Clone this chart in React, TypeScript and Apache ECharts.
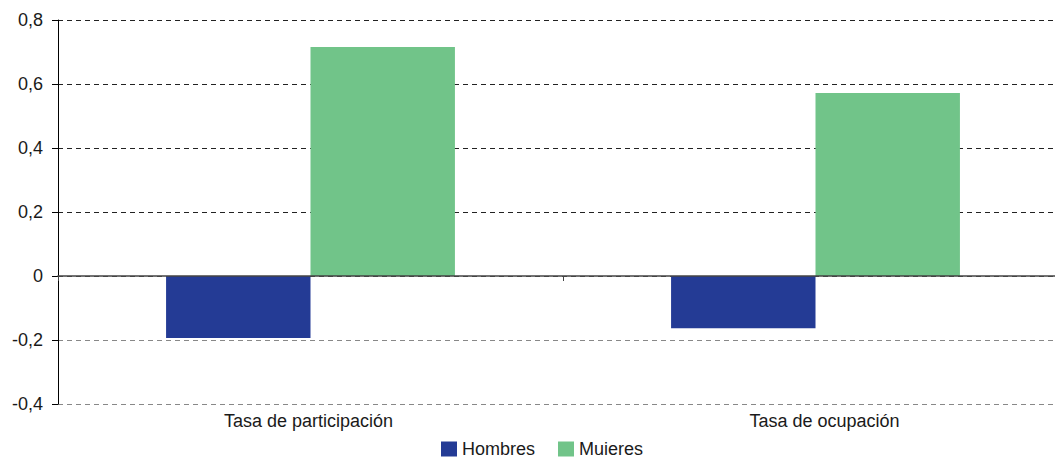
import React, { useEffect, useRef } from "react";
import * as echarts from "echarts";

const categories = ["Tasa de participación", "Tasa de ocupación"];
const hombres = [-0.194, -0.163];
const mujeres = [0.716, 0.572];
const seriesNames = ["Hombres", "Muieres"];
const yMin = -0.4;
const yMax = 0.8;
const yInterval = 0.2;

const FONT = "'Liberation Sans', Arial, sans-serif";
// label paddings [top, right, bottom, left] to nudge category labels like the reference
const labelPaddings = [
  [0, 4, 0, 0],
  [0, 0, 0, 18],
];

export default function App() {
  const ref = useRef<HTMLDivElement>(null);
  useEffect(() => {
    document.body.style.margin = "0";
    const chart = echarts.init(ref.current!, null, { renderer: "svg" });
    chart.setOption({
      animation: false,
      textStyle: { fontFamily: FONT },
      grid: {
        left: 58,
        top: 20,
        width: 1010,
        bottom: 54,
        containLabel: false,
        outerBoundsMode: "none",
      },
      legend: {
        data: seriesNames,
        left: 436,
        top: 435,
        itemWidth: 16,
        itemHeight: 15,
        itemGap: 23,
        icon: "rect",
        textStyle: { fontSize: 18, lineHeight: 16, color: "#1a1a1a", fontFamily: FONT },
      },
      xAxis: [
        {
          type: "category",
          data: categories.map((c, i) => ({
            value: c,
            textStyle: { padding: labelPaddings[i] },
          })),
          position: "bottom",
          axisLine: { show: false, onZero: false },
          axisTick: { show: false },
          axisLabel: { fontSize: 18, color: "#1a1a1a", margin: 8, fontFamily: FONT },
          splitLine: { show: false },
        },
        {
          type: "category",
          data: categories,
          position: "bottom",
          z: 5,
          axisLine: { show: true, onZero: true, lineStyle: { color: "#444", width: 1.6 } },
          axisTick: { show: true, length: 5, lineStyle: { color: "#444" } },
          axisLabel: { show: false },
          splitLine: { show: false },
        },
      ],
      yAxis: {
        type: "value",
        min: yMin,
        max: yMax,
        interval: yInterval,
        axisLine: { show: true, lineStyle: { color: "#000", width: 1 } },
        axisTick: { show: true, length: 6, lineStyle: { color: "#000" } },
        axisLabel: {
          fontSize: 18,
          color: "#1a1a1a",
          margin: 15,
          fontFamily: FONT,
          formatter: (v: number) =>
            Math.abs(v) < 1e-9 ? "0" : v.toFixed(1).replace(".", ","),
        },
        splitLine: {
          show: true,
          lineStyle: {
            color: ["#888", "#888", "#444", "#222", "#222", "#222", "#222"],
            type: [5, 4],
            width: 1,
          },
        },
      },
      series: [
        {
          name: seriesNames[0],
          type: "bar",
          xAxisIndex: 0,
          data: hombres,
          barWidth: "28.6%",
          barGap: "0%",
          itemStyle: { color: "#243b95" },
        },
        {
          name: seriesNames[1],
          type: "bar",
          xAxisIndex: 0,
          data: mujeres,
          barWidth: "28.6%",
          barGap: "0%",
          itemStyle: { color: "#71c489" },
        },
      ],
    });
    return () => chart.dispose();
  }, []);
  return (
    <div
      ref={ref}
      style={{ position: "absolute", left: 0, top: 0, width: 1055, height: 458 }}
    />
  );
}
